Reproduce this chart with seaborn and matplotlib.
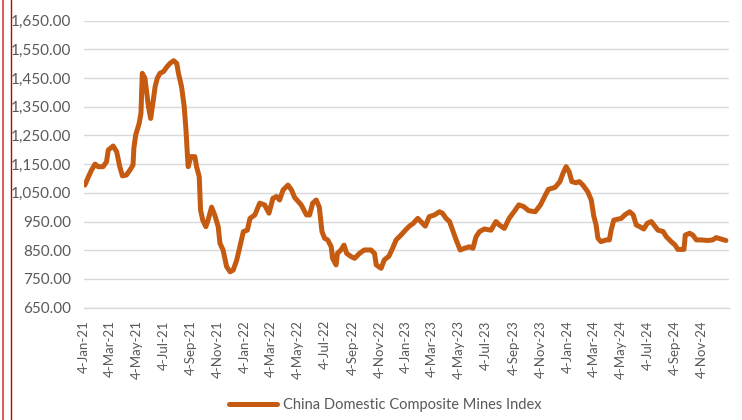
import pandas as pd
import matplotlib.pyplot as plt
import seaborn as sns
from matplotlib.lines import Line2D

# ---------- DATA ----------
dates = [
    "2021-01-06", "2021-01-14", "2021-01-21", "2021-01-29", "2021-02-05", "2021-02-16",
    "2021-02-24", "2021-02-28", "2021-03-11", "2021-03-19", "2021-03-26", "2021-04-01",
    "2021-04-10", "2021-04-18", "2021-04-25", "2021-04-27", "2021-05-01", "2021-05-09",
    "2021-05-13", "2021-05-16", "2021-05-22", "2021-05-30", "2021-06-04", "2021-06-10",
    "2021-06-14", "2021-06-19", "2021-06-25", "2021-07-03", "2021-07-11", "2021-07-18",
    "2021-07-26", "2021-08-02", "2021-08-06", "2021-08-13", "2021-08-19", "2021-08-23",
    "2021-08-26", "2021-08-28", "2021-09-03", "2021-09-12", "2021-09-16", "2021-09-22",
    "2021-09-25", "2021-09-30", "2021-10-07", "2021-10-12", "2021-10-20", "2021-10-27",
    "2021-11-04", "2021-11-08", "2021-11-15", "2021-11-23", "2021-12-01", "2021-12-08",
    "2021-12-16", "2021-12-23", "2021-12-31", "2022-01-09", "2022-01-15", "2022-01-26",
    "2022-02-06", "2022-02-17", "2022-02-27", "2022-03-08", "2022-03-16", "2022-03-23",
    "2022-03-31", "2022-04-11", "2022-04-19", "2022-04-26", "2022-05-11", "2022-05-23",
    "2022-05-30", "2022-06-06", "2022-06-14", "2022-06-21", "2022-06-27", "2022-07-03",
    "2022-07-10", "2022-07-18", "2022-07-21", "2022-07-29", "2022-08-01", "2022-08-09",
    "2022-08-16", "2022-08-22", "2022-09-01", "2022-09-09", "2022-09-20", "2022-10-01",
    "2022-10-16", "2022-10-24", "2022-10-28", "2022-11-08", "2022-11-15", "2022-11-26",
    "2022-12-04", "2022-12-12", "2022-12-23", "2023-01-02", "2023-01-11", "2023-01-20",
    "2023-01-30", "2023-02-06", "2023-02-16", "2023-02-25", "2023-03-09", "2023-03-20",
    "2023-03-27", "2023-04-04", "2023-04-12", "2023-04-19", "2023-04-27", "2023-05-06",
    "2023-05-16", "2023-05-27", "2023-06-04", "2023-06-11", "2023-06-19", "2023-06-30",
    "2023-07-15", "2023-07-26", "2023-08-03", "2023-08-14", "2023-08-25", "2023-09-05",
    "2023-09-16", "2023-09-27", "2023-10-08", "2023-10-23", "2023-11-04", "2023-11-15",
    "2023-11-22", "2023-12-07", "2023-12-18", "2023-12-25", "2024-01-01", "2024-01-08",
    "2024-01-14", "2024-01-23", "2024-01-31", "2024-02-08", "2024-02-19", "2024-02-27",
    "2024-03-04", "2024-03-09", "2024-03-13", "2024-03-20", "2024-04-01", "2024-04-08",
    "2024-04-12", "2024-04-18", "2024-04-27", "2024-05-05", "2024-05-13", "2024-05-24",
    "2024-06-01", "2024-06-08", "2024-06-16", "2024-06-25", "2024-07-03", "2024-07-12",
    "2024-07-20", "2024-07-27", "2024-08-08", "2024-08-15", "2024-08-26", "2024-09-04",
    "2024-09-10", "2024-09-24", "2024-09-27", "2024-10-07", "2024-10-14", "2024-10-22",
    "2024-11-02", "2024-11-17", "2024-11-28", "2024-12-06", "2024-12-17", "2024-12-28",
]
values = [
    1077, 1106, 1129, 1150, 1141, 1141,
    1158, 1199, 1213, 1193, 1141, 1109,
    1112, 1129, 1147, 1206, 1251, 1292,
    1327, 1466, 1449, 1350, 1309, 1373,
    1419, 1449, 1466, 1472, 1489, 1501,
    1510, 1501, 1466, 1419, 1350, 1269,
    1188, 1141, 1176, 1176, 1141, 1106,
    990, 955, 932, 955, 1000, 973,
    932, 874, 851, 793, 775, 781,
    816, 862, 915, 920, 961, 973,
    1014, 1008, 979, 1031, 1037, 1025,
    1060, 1077, 1060, 1034, 1008, 973,
    973, 1014, 1025, 1000, 915, 892,
    886, 862, 822, 799, 839, 851,
    868, 839, 828, 822, 839, 851,
    851, 839, 799, 787, 816, 830,
    857, 886, 903, 920, 934, 944,
    961, 950, 934, 967, 973, 984,
    979, 961, 950, 920, 886, 851,
    857, 862, 857, 897, 915, 924,
    920, 950, 938, 926, 961, 984,
    1008, 1002, 988, 984, 1008, 1042,
    1062, 1069, 1089, 1118, 1141, 1123,
    1089, 1085, 1089, 1077, 1054, 1025,
    967, 938, 892, 880, 886, 886,
    920, 955, 958, 961, 973, 984,
    973, 938, 932, 924, 944, 950,
    934, 920, 915, 897, 880, 868,
    853, 853, 903, 909, 903, 886,
    886, 884, 886, 894, 889, 884,
]
series_name = "China Domestic Composite Mines Index"

tick_labels = [
    "4-Jan-21", "4-Mar-21", "4-May-21", "4-Jul-21", "4-Sep-21", "4-Nov-21",
    "4-Jan-22", "4-Mar-22", "4-May-22", "4-Jul-22", "4-Sep-22", "4-Nov-22",
    "4-Jan-23", "4-Mar-23", "4-May-23", "4-Jul-23", "4-Sep-23", "4-Nov-23",
    "4-Jan-24", "4-Mar-24", "4-May-24", "4-Jul-24", "4-Sep-24", "4-Nov-24",
    "4-Jan-25",
]
y_ticks = [650, 750, 850, 950, 1050, 1150, 1250, 1350, 1450, 1550, 1650]
# ----------------------------------------------------------

LINE_COLOR = "#C55A11"
TEXT_COLOR = "#595959"
GRID_COLOR = "#D9D9D9"

df = pd.DataFrame({"date": pd.to_datetime(dates), "value": values})
tick_pos = pd.to_datetime(tick_labels, format="%d-%b-%y")

sns.set_style("white")
plt.rcParams["font.family"] = ["Lato", "DejaVu Sans"]

fig = plt.figure(figsize=(7.42, 4.2), dpi=100)
ax = fig.add_axes([84 / 742, 1 - 307.7 / 420, (729 - 84) / 742, (307.7 - 20.5) / 420])

sns.lineplot(data=df, x="date", y="value", ax=ax, color=LINE_COLOR,
             linewidth=3.6, solid_capstyle="round", solid_joinstyle="round")

ax.set_xlim(tick_pos[0], tick_pos[-1])
ax.set_ylim(650, 1650)
ax.set_yticks(y_ticks)
ax.set_yticklabels([f"{v:,.2f}" for v in y_ticks])
ax.set_xticks(tick_pos)
ax.set_xticklabels(tick_labels[:-1] + [""], rotation=90)

ax.grid(axis="y", color=GRID_COLOR, linewidth=1.0)
ax.set_axisbelow(True)
for side in ["left", "right", "top"]:
    ax.spines[side].set_visible(False)
ax.spines["bottom"].set_color(GRID_COLOR)
ax.spines["bottom"].set_linewidth(1.0)

ax.tick_params(axis="y", length=0, pad=9, labelsize=11, labelcolor=TEXT_COLOR)
ax.tick_params(axis="x", length=5, width=1, color=GRID_COLOR, pad=4,
               labelsize=9.5, labelcolor=TEXT_COLOR)
ax.set_xlabel("")
ax.set_ylabel("")

handle = Line2D([], [], color=LINE_COLOR, linewidth=3.6, solid_capstyle="round")
fig.legend([handle], [series_name], loc="center", bbox_to_anchor=(385 / 742, 1 - 405 / 420),
           frameon=False, fontsize=10.5, labelcolor=TEXT_COLOR, handlelength=3.3,
           handletextpad=0.4)

# red frame edges on the left of the original screenshot
fig.add_artist(Line2D([2.5 / 742, 2.5 / 742], [0, 1], color="#E05A5A", linewidth=1.4))
fig.add_artist(Line2D([11 / 742, 11 / 742], [0, 1], color="#C00000", linewidth=1.0))

plt.savefig("out.png", dpi=100)
plt.close()
